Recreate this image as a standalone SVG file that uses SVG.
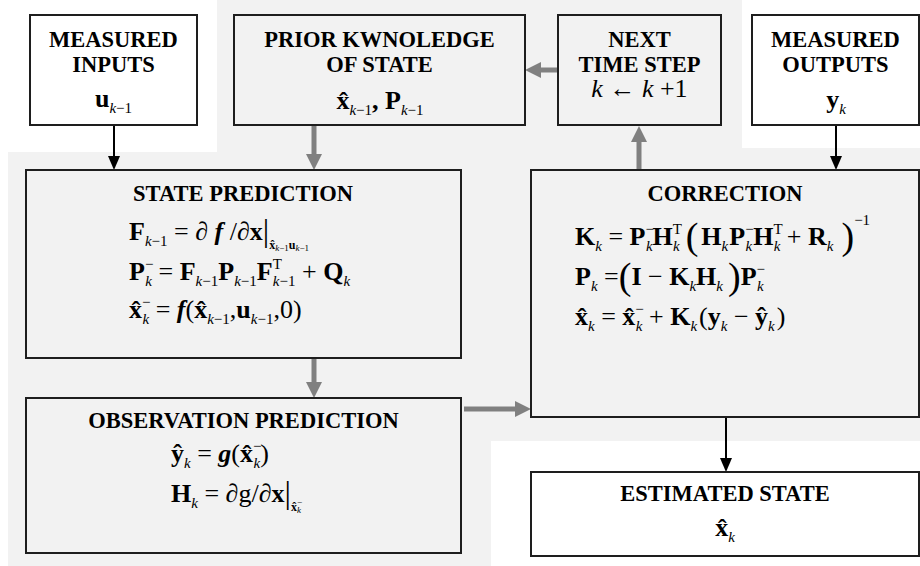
<svg xmlns="http://www.w3.org/2000/svg" width="920" height="566" viewBox="0 0 920 566" font-family="'Liberation Serif', serif">
<defs>
<style>
.bx{stroke:#1e1e1e;stroke-width:2}
.w{fill:#fff}.g{fill:#f2f2f2}
text{font-family:'Liberation Serif','Times New Roman',serif;fill:#000}
.t{font-size:22.5px;font-weight:bold;text-anchor:middle}
.m{font-size:26px}
.c{text-anchor:middle}
.b{font-weight:bold}.i{font-style:italic}
.s{font-size:15px;font-weight:normal}.ss{font-size:12px}.sss{font-size:9px;font-weight:normal}
.big{font-size:38px;font-weight:normal}
.bar{font-size:32px;font-weight:normal}
.ck{stroke:#000;stroke-width:2;fill:none}
.cg{stroke:#808080;stroke-width:5;fill:none}
</style>
<marker id="ak" viewBox="0 0 14 12" markerWidth="14" markerHeight="12" refX="8" refY="6" orient="auto" markerUnits="userSpaceOnUse"><path d="M0,0 L14,6 L0,12 Z" fill="#000"/></marker>
<marker id="ag" viewBox="0 0 16 16" markerWidth="16" markerHeight="16" refX="10" refY="8" orient="auto" markerUnits="userSpaceOnUse"><path d="M0,0 L16,8 L0,16 Z" fill="#808080"/></marker>
</defs>
<rect x="0" y="0" width="920" height="566" fill="#fff"/>
<path d="M217,0H742V148H920V441H491V566H8V152H217Z" fill="#f2f2f2"/>

<g id="connectors">
<line class="ck" x1="114" y1="126" x2="114" y2="164" marker-end="url(#ak)"/>
<line class="cg" x1="314" y1="126" x2="314" y2="164" marker-end="url(#ag)"/>
<line class="cg" x1="557" y1="70" x2="531" y2="70" marker-end="url(#ag)"/>
<line class="cg" x1="639" y1="169" x2="639" y2="132" marker-end="url(#ag)"/>
<line class="ck" x1="836" y1="126" x2="836" y2="164" marker-end="url(#ak)"/>
<line class="cg" x1="314" y1="359" x2="314" y2="392" marker-end="url(#ag)"/>
<line class="cg" x1="464" y1="409" x2="525" y2="409" marker-end="url(#ag)"/>
<line class="ck" x1="726" y1="418" x2="726" y2="466" marker-end="url(#ak)"/>
</g>

<g id="measured-inputs">
<rect class="bx w" x="30" y="15" width="167" height="110"/>
<text class="t" x="113.5" y="47">MEASURED</text>
<text class="t" x="113.5" y="72">INPUTS</text>
<text class="m c" x="113.5" y="107"><tspan class="b">u</tspan><tspan class="s i" dy="6">k</tspan><tspan class="s">−1</tspan></text>
</g>

<g id="prior-knowledge">
<rect class="bx g" x="234" y="15" width="291" height="110"/>
<text class="t" x="379.5" y="47">PRIOR KWNOLEDGE</text>
<text class="t" x="379.5" y="72">OF STATE</text>
<text class="m c" x="380" y="109"><tspan class="b">x&#x302;</tspan><tspan class="s i" dy="6">k</tspan><tspan class="s">−1</tspan><tspan class="b" dy="-6">, P</tspan><tspan class="s i" dy="6">k</tspan><tspan class="s">−1</tspan></text>
</g>

<g id="next-time-step">
<rect class="bx g" x="558" y="15" width="163" height="110"/>
<text class="t" x="639.5" y="47">NEXT</text>
<text class="t" x="639.5" y="72">TIME STEP</text>
<text class="m c" x="639.5" y="97"><tspan class="i">k</tspan> ← <tspan class="i">k</tspan> +1</text>
</g>

<g id="measured-outputs">
<rect class="bx w" x="752" y="15" width="167" height="110"/>
<text class="t" x="835.5" y="47">MEASURED</text>
<text class="t" x="835.5" y="72">OUTPUTS</text>
<text class="m c" x="836" y="108"><tspan class="b">y</tspan><tspan class="s i" dy="6">k</tspan></text>
</g>

<g id="state-prediction">
<rect class="bx g" x="26" y="170" width="435" height="188"/>
<text class="t" x="243" y="201">STATE PREDICTION</text>
<text class="m" x="129" y="240"><tspan class="b">F</tspan><tspan class="s i" dy="6">k</tspan><tspan class="s">−1</tspan><tspan dy="-6"> = ∂ </tspan><tspan class="b i">f</tspan><tspan> /∂</tspan><tspan class="b">x</tspan><tspan class="bar" dy="1">|</tspan><tspan class="ss b" dy="8">x&#x302;</tspan><tspan class="sss i" dy="2">k</tspan><tspan class="sss">−1</tspan><tspan class="ss b" dy="-2">u</tspan><tspan class="sss i" dy="2">k</tspan><tspan class="sss">−1</tspan></text>
<text class="m" x="129" y="280"><tspan class="b">P</tspan><tspan class="s" dy="-11">−</tspan><tspan class="s i" dx="-8" dy="17">k</tspan><tspan dy="-6"> = </tspan><tspan class="b">F</tspan><tspan class="s i" dy="6">k</tspan><tspan class="s">−1</tspan><tspan class="b" dy="-6">P</tspan><tspan class="s i" dy="6">k</tspan><tspan class="s">−1</tspan><tspan class="b" dy="-6">F</tspan><tspan class="s" dy="-11">T</tspan><tspan class="s i" dx="-9" dy="17">k</tspan><tspan class="s">−1</tspan><tspan dy="-6"> + </tspan><tspan class="b">Q</tspan><tspan class="s i" dy="6">k</tspan></text>
<text class="m" x="129" y="318"><tspan class="b">x&#x302;</tspan><tspan class="s" dy="-11">−</tspan><tspan class="s i" dx="-8" dy="17">k</tspan><tspan dy="-6"> = </tspan><tspan class="b i">f</tspan><tspan>(</tspan><tspan class="b">x&#x302;</tspan><tspan class="s i" dy="6">k</tspan><tspan class="s">−1</tspan><tspan dy="-6">,</tspan><tspan class="b">u</tspan><tspan class="s i" dy="6">k</tspan><tspan class="s">−1</tspan><tspan dy="-6">,0)</tspan></text>
</g>

<g id="correction">
<rect class="bx g" x="531" y="170" width="388" height="247"/>
<text class="t" x="725" y="201">CORRECTION</text>
<text class="m" x="575" y="245"><tspan class="b">K</tspan><tspan class="s i" dy="6">k</tspan><tspan dy="-6"> = </tspan><tspan class="b">P</tspan><tspan class="s" dy="-11">−</tspan><tspan class="s i" dx="-8" dy="17">k</tspan><tspan class="b" dy="-6">H</tspan><tspan class="s" dy="-11">T</tspan><tspan class="s i" dx="-9" dy="17">k</tspan><tspan class="big" dx="6" dy="-2">(</tspan><tspan class="b" dx="3" dy="-4">H</tspan><tspan class="s i" dy="6">k</tspan><tspan class="b" dx="1" dy="-6">P</tspan><tspan class="s" dy="-11">−</tspan><tspan class="s i" dx="-8" dy="17">k</tspan><tspan class="b" dx="1" dy="-6">H</tspan><tspan class="s" dy="-11">T</tspan><tspan class="s i" dx="-9" dy="17">k</tspan><tspan dy="-6"> + </tspan><tspan class="b">R</tspan><tspan class="s i" dy="6">k</tspan><tspan class="big" dx="8" dy="-2">)</tspan><tspan class="s" dy="-24">−1</tspan></text>
<text class="m" x="575" y="285"><tspan class="b">P</tspan><tspan class="s i" dy="6">k</tspan><tspan dy="-6"> =</tspan><tspan class="big" dy="4">(</tspan><tspan class="b" dy="-4">I</tspan><tspan> − </tspan><tspan class="b">K</tspan><tspan class="s i" dy="6">k</tspan><tspan class="b" dy="-6">H</tspan><tspan class="s i" dy="6">k</tspan><tspan class="big" dx="5" dy="-2">)</tspan><tspan class="b" dy="-4">P</tspan><tspan class="s" dy="-11">−</tspan><tspan class="s i" dx="-8" dy="17">k</tspan></text>
<text class="m" x="575" y="325"><tspan class="b">x&#x302;</tspan><tspan class="s i" dy="6">k</tspan><tspan dy="-6"> = </tspan><tspan class="b">x&#x302;</tspan><tspan class="s" dy="-11">−</tspan><tspan class="s i" dx="-8" dy="17">k</tspan><tspan dy="-6"> + </tspan><tspan class="b">K</tspan><tspan class="s i" dy="6">k</tspan><tspan dx="2" dy="-6">(</tspan><tspan class="b">y</tspan><tspan class="s i" dy="6">k</tspan><tspan dy="-6"> − </tspan><tspan class="b">y&#x302;</tspan><tspan class="s i" dy="6">k</tspan><tspan dx="2" dy="-6">)</tspan></text>
</g>

<g id="observation-prediction">
<rect class="bx g" x="26" y="398" width="435" height="155"/>
<text class="t" x="243.5" y="428">OBSERVATION PREDICTION</text>
<text class="m" x="171" y="462"><tspan class="b">y&#x302;</tspan><tspan class="s i" dy="6">k</tspan><tspan dy="-6"> = </tspan><tspan class="b i">g</tspan><tspan>(</tspan><tspan class="b">x&#x302;</tspan><tspan class="s" dy="-11">−</tspan><tspan class="s i" dx="-8" dy="17">k</tspan><tspan dy="-6">)</tspan></text>
<text class="m" x="171" y="502"><tspan class="b">H</tspan><tspan class="s i" dy="6">k</tspan><tspan dy="-6"> = ∂g/∂</tspan><tspan class="b">x</tspan><tspan class="bar" dy="1">|</tspan><tspan class="ss b" dy="8">x&#x302;</tspan><tspan class="sss" dy="-6">−</tspan><tspan class="sss i" dx="-5" dy="8">k</tspan></text>
</g>

<g id="estimated-state">
<rect class="bx w" x="531" y="472" width="388" height="84"/>
<text class="t" x="725" y="501">ESTIMATED STATE</text>
<text class="m c" x="725" y="536"><tspan class="b">x&#x302;</tspan><tspan class="s i" dy="6">k</tspan></text>
</g>
</svg>
